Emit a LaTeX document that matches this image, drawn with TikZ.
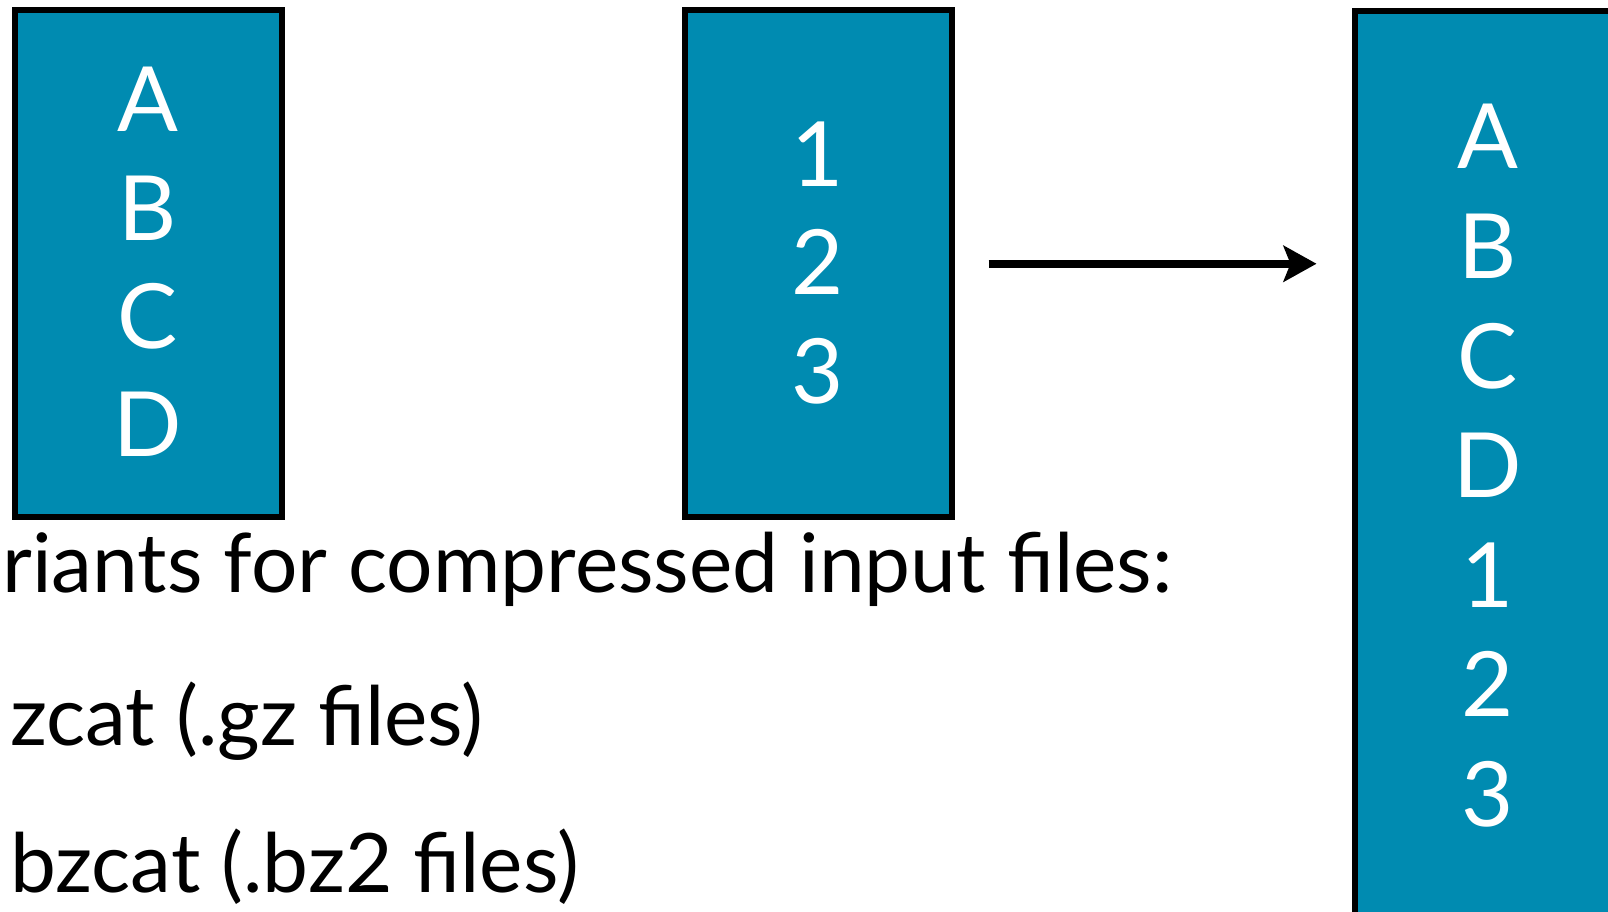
\documentclass[tikz,border=0pt]{standalone}
\usepackage{fontspec}
\setmainfont{Lato}
\usetikzlibrary{arrows.meta}
\definecolor{boxteal}{RGB}{0,139,177}
\tikzset{
  colbox/.style={draw=black, line width=6pt, fill=boxteal, inner sep=0pt, outer sep=0pt,
                 minimum width=267pt, anchor=north west},
  glyph/.style={text=white, font=\fontsize{90}{108}\selectfont, anchor=base, inner sep=0pt},
  caption/.style={text=black, font=\fontsize{82}{98}\selectfont, anchor=base west, inner sep=0pt},
  flow/.style={line width=8pt, -{Stealth[length=33pt, width=36pt, inset=7pt]}}
}
\begin{document}
\begin{tikzpicture}[x=1pt, y=1pt]
  \useasboundingbox (0,0) rectangle (1608,-912);
  \clip (0,0) rectangle (1608,-912);

  % three columns of records
  \node[colbox, minimum height=506.5pt] (colA) at (14.5,-10.5) {};
  \node[colbox, minimum height=506.5pt] (colN) at (684.5,-10.5) {};
  \node[colbox, minimum height=920pt]   (colM) at (1354.5,-11) {};

  % first input: letters
  \foreach \t [count=\i] in {A,B,C,D}
    \node[glyph] (la\i) at (148, {-132-108*(\i-1)}) {\t};

  % second input: numbers
  \foreach \t [count=\i] in {1,2,3}
    \node[glyph] (ln\i) at (818, {-186-108.5*(\i-1)}) {\t};

  % concatenated output
  \foreach \t [count=\i] in {A,B,C,D,1,2,3}
    \node[glyph] (lm\i) at (1488, {-169-109.5*(\i-1)}) {\t};

  % concatenation arrow
  \draw[flow, shorten <=37pt, shorten >=38pt] (colN.east) -- (colN.east -| colM.west);

  % notes on compressed inputs
  \node[caption] (note)  at (2,-592)  {riants for compressed input files:};
  \node[caption] (zcat)  at (10,-745) {zcat (.gz files)};
  \node[caption] (bzcat) at (10,-892) {bzcat (.bz2 files)};
\end{tikzpicture}
\end{document}
